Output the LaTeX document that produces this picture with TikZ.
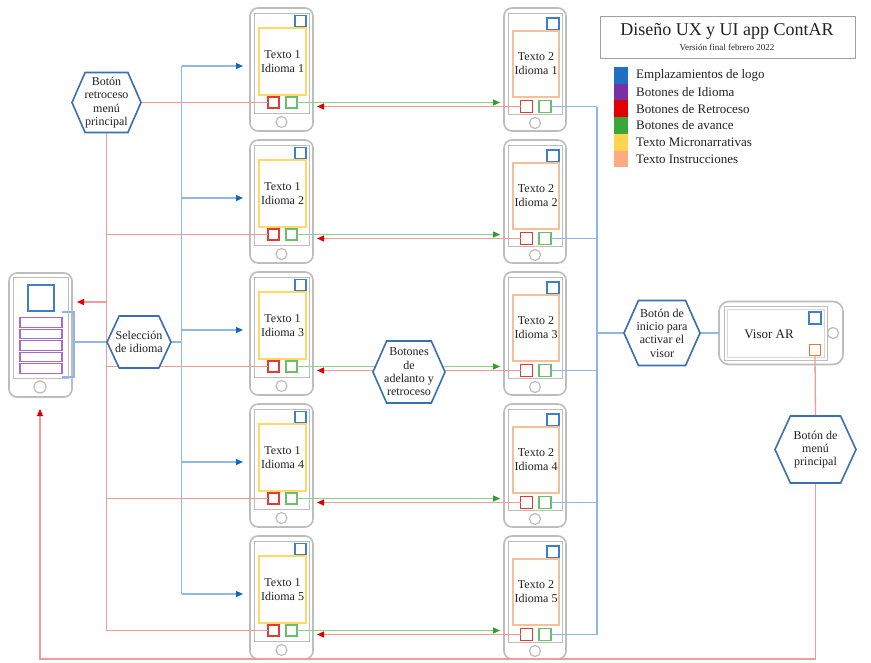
\documentclass[tikz,border=0pt]{standalone}
\usepackage{fontspec}
\setmainfont{Liberation Serif}
\usetikzlibrary{arrows.meta,calc}
\pgfdeclarelayer{front}
\pgfsetlayers{main,front}
\definecolor{phgray}{HTML}{BDBDBD}
\definecolor{logoblue}{HTML}{3F7FC9}
\definecolor{legblue}{HTML}{1F6FC5}
\definecolor{legpurple}{HTML}{7A2FA6}
\definecolor{legred}{HTML}{E00000}
\definecolor{leggreen}{HTML}{3AA63A}
\definecolor{legyellow}{HTML}{FFD54F}
\definecolor{legorange}{HTML}{FFAB80}
\definecolor{sqred}{HTML}{E53935}
\definecolor{sqgreen}{HTML}{6BBF6B}
\definecolor{boxyellow}{HTML}{FFD966}
\definecolor{boxorange}{HTML}{F8BE9A}
\definecolor{purpleline}{HTML}{A56BCB}
\definecolor{lnred}{HTML}{F59A9A}
\definecolor{lnblue}{HTML}{8FB7E3}
\definecolor{lngreen}{HTML}{8ED08E}
\definecolor{arred}{HTML}{E00000}
\definecolor{arblue}{HTML}{1565C0}
\definecolor{argreen}{HTML}{2E9E2E}
\definecolor{hexblue}{HTML}{3A6FB0}
\definecolor{visororange}{HTML}{E8782A}
\definecolor{txt}{HTML}{222222}
\newcommand\hexa[6]{%
  \begin{pgfonlayer}{front}
  \filldraw[hexline] ({#2-#4/2},#3) -- ({#2-0.31*#4},{#3-#5/2}) -- ({#2+0.31*#4},{#3-#5/2}) -- ({#2+#4/2},#3) -- ({#2+0.31*#4},{#3+#5/2}) -- ({#2-0.31*#4},{#3+#5/2}) -- cycle;
  \node[hextext, minimum width=#4pt, minimum height=#5pt] (#1) at (#2,#3) {#6};
  \end{pgfonlayer}}
\begin{document}
\begin{tikzpicture}[x=1pt,y=-1pt,
  every node/.style={text=txt},
  phone/.style={draw=phgray, line width=1.6pt, rounded corners=8pt, inner sep=0pt, outer sep=0pt},
  screen/.style={draw=phgray, line width=1pt},
  homebtn/.style={draw=phgray, line width=1.2pt},
  sq/.style={draw=#1, line width=1.3pt, minimum size=11pt, inner sep=0pt, outer sep=0pt},
  tbox/.style={draw=#1, line width=1.2pt, inner sep=0pt, outer sep=0pt, align=center, font=\fontsize{12}{14}\selectfont},
  hexline/.style={draw=hexblue, line width=1.6pt, fill=white, line join=miter},
  hextext/.style={inner sep=0pt, outer sep=0pt, align=center, font=\fontsize{12}{13.4}\selectfont},
  redln/.style={draw=lnred, line width=1.3pt},
  blueln/.style={draw=lnblue, line width=1.3pt},
  greenln/.style={draw=lngreen, line width=1.3pt},
  redarr/.style={redln, -{Triangle[length=7pt,width=6pt,color=arred]}},
  bluearr/.style={blueln, -{Triangle[length=7pt,width=6pt,color=arblue]}},
  greenarr/.style={greenln, -{Triangle[length=7pt,width=6pt,color=argreen]}},
  legsq/.style={fill=#1, minimum width=14pt, minimum height=16.7pt, inner sep=0pt, outer sep=0pt, anchor=north west},
  legtxt/.style={anchor=west, inner sep=0pt, font=\fontsize{13}{13}\selectfont}
]
\fill[white] (0,0) rectangle (871,662);
\useasboundingbox (0,0) rectangle (871,662);

% ---------- phones, columns 1 and 2 ----------
\foreach \k in {1,...,5}{
  \pgfmathsetmacro\T{8+132*(\k-1)}
  % column 1
  \node[phone, minimum width=63pt, minimum height=123pt, anchor=north west] (pa\k) at (250,\T) {};
  \draw[screen] (254,\T+5) rectangle (309,\T+105);
  \draw[homebtn] (281.5,\T+114) circle (5.5pt);
  \node[sq=logoblue] (la\k) at (300.5,\T+13) {};
  \node[tbox=boxyellow, minimum width=47pt, minimum height=67pt] (ta\k) at (282.5,\T+53.5) {Texto 1\\Idioma \k};
  \node[sq=sqred] (ra\k) at (273.5,\T+94.5) {};
  \node[sq=sqgreen] (ga\k) at (291.5,\T+94.5) {};
  % column 2
  \node[phone, minimum width=62pt, minimum height=123pt, anchor=north west] (pb\k) at (504,\T) {};
  \draw[screen] (508,\T+5) rectangle (562,\T+106);
  \draw[homebtn] (535,\T+115) circle (5.5pt);
  \node[sq=logoblue, minimum size=12pt] (lb\k) at (553,\T+16) {};
  \node[tbox=boxorange, minimum width=46pt, minimum height=66pt] (tb\k) at (536,\T+56) {Texto 2\\Idioma \k};
  \node[sq=sqred, minimum size=12pt] (rb\k) at (526.5,\T+98.5) {};
  \node[sq=sqgreen, minimum size=12pt] (gb\k) at (545,\T+98.5) {};
  \coordinate (ba\k) at (243,\T+58);
}

% ---------- main phone ----------
\node[phone, minimum width=63pt, minimum height=124pt] (mainp) at (40.5,335) {};
\draw[screen] (13,277) rectangle (68,378);
\draw[homebtn] (40,387) circle (6pt);
\node[sq=logoblue, minimum size=26pt, line width=1.6pt] (mlogo) at (41,298) {};
\foreach \i in {1,...,5}{
  \node[draw=purpleline, line width=1.3pt, minimum width=42pt, minimum height=9.5pt, inner sep=0pt, outer sep=0pt] (pu\i) at (41,{322.5+11.5*(\i-1)}) {};
}

% ---------- visor AR ----------
\node[phone, rounded corners=10pt, minimum width=124pt, minimum height=63pt] (visor) at (781,333) {};
\draw[screen] (724,306) rectangle (827,360);
\draw[draw=phgray!60, line width=0.6pt] (727,309) rectangle (824,357);
\draw[homebtn] (833,333) circle (5.5pt);
\node[sq=logoblue, minimum size=12pt] (vlogo) at (815,318) {};
\node[sq=visororange, minimum size=11pt] (vmenu) at (815,350) {};
\node[font=\fontsize{13}{13}\selectfont, inner sep=0pt] (vtext) at (769,334) {Visor AR};

% ---------- hexagons ----------
\hexa{hexret}{106.5}{102.5}{69}{60}{Botón\\retroceso\\menú\\principal}
\hexa{hexsel}{139}{342}{64}{52}{Selección\\de idioma}
\hexa{hexbot}{409}{372}{72}{62}{Botones\\de\\adelanto y\\retroceso}
\hexa{hexini}{662}{333}{76}{65}{Botón de\\inicio para\\activar el\\visor}
\hexa{hexmenu}{815.5}{449.5}{81}{67}{Botón de\\menú\\principal}

% ---------- title and legend ----------
\node[draw=gray!75, line width=1pt, minimum width=255pt, minimum height=42pt, inner sep=0pt] (titlebox) at (727.5,37) {};
\node[inner sep=0pt, font=\fontsize{18}{18}\selectfont] (title) at (727,31) {Diseño UX y UI app ContAR};
\node[inner sep=0pt, font=\fontsize{9}{9}\selectfont] (subtitle) at (727,47) {Versión final febrero 2022};
\foreach \c/\t [count=\i] in {legblue/Emplazamientos de logo, legpurple/Botones de Idioma, legred/Botones de Retroceso, leggreen/Botones de avance, legyellow/Texto Micronarrativas, legorange/Texto Instrucciones}{
  \node[legsq=\c] (lg\i) at (614,{67+16.7*(\i-1)}) {};
  \node[legtxt] (lt\i) at (636,{75.3+16.7*(\i-1)}) {\t};
}

% ---------- coordinates for buses ----------
\coordinate (busL) at (181.5,0);
\coordinate (busR) at (597,0);
\coordinate (redbus) at (106,0);
\coordinate (mainin) at (77,302);
\coordinate (retEnd) at (40,409);
\coordinate (botY) at (0,659);
\coordinate (brT) at (62,312);
\coordinate (brB) at (62,377);
\coordinate (brM) at (74,342);

% ---------- connectors ----------
\foreach \k in {1,...,5}{
  \draw[greenarr] (ga\k.east) -- ($(pb\k.west |- ga\k.east)+(-4,0)$);
  \draw[redarr] (rb\k.west) -- ($(pa\k.east |- rb\k.west)+(4,0)$);
  \draw[blueln] (gb\k.east) -- (gb\k.east -| busR);
  \draw[bluearr] (busL |- ba\k) -- (ba\k);
}
\foreach \k in {2,...,5}{
  \draw[redln] (redbus |- ra\k.west) -- (ra\k.west);
}
\draw[redln] (hexret.east) -- (ra1.west);
\draw[redln] (hexret.south) -- (hexret.south |- ra5.west);
\draw[redarr] (redbus |- mainin) -- (mainin);
\draw[blueln] (busL |- ba1) -- (busL |- ba5);
\draw[blueln] (hexsel.east) -- (busL |- hexsel.east);
\draw[blueln] (brT) -- (brT -| brM) -- (brB -| brM) -- (brB);
\draw[blueln] (brM) -- (hexsel.west);
\draw[blueln] (busR |- gb1.east) -- (busR |- gb5.east);
\draw[blueln] (busR |- hexini.west) -- (hexini.west);
\draw[blueln] (hexini.east) -- (visor.west);
\draw[redln] (vmenu.south) -- (hexmenu.north);
\draw[redarr] (hexmenu.south) -- (hexmenu.south |- botY) -| (retEnd);
\end{tikzpicture}
\end{document}
